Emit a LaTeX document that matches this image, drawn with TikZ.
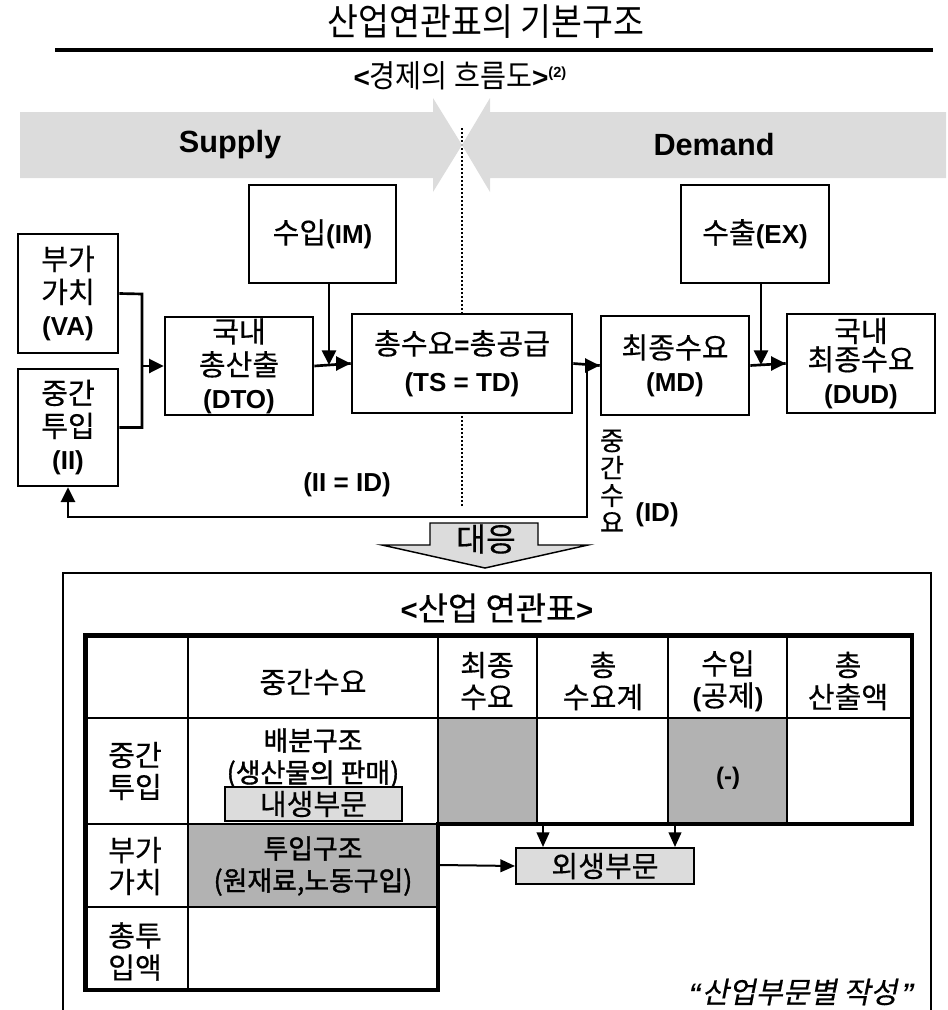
\documentclass[tikz,border=0pt]{standalone}
\usepackage{fontspec}
\setmainfont{Noto Sans CJK KR}[Scale=1.12, FakeBold=0.4]
\newfontfamily\ar{Liberation Sans}
\newfontfamily\krb{Noto Sans CJK KR}[Scale=1.12, FakeBold=1.4]
\newfontfamily\kri{Noto Sans CJK KR}[Scale=1.1, FakeSlant=0.2, FakeBold=0.4]
\newfontfamily\krn{Noto Sans CJK KR}[Scale=1.12, FakeStretch=0.9]
\newcommand\B[1]{{\ar\bfseries #1}}
\newcommand\fs[2]{\fontsize{#1}{#2}\selectfont}
\usetikzlibrary{arrows.meta}
\definecolor{band}{HTML}{DCDCDC}
\definecolor{cellgray}{HTML}{B2B2B2}
\definecolor{boxgray}{HTML}{DCDCDC}
\tikzset{
 flowbox/.style={draw, line width=2pt, fill=white, inner sep=0pt, align=center, font=\fs{19.5}{24.75}},
 flowline/.style={line width=2pt},
 flowarrow/.style={line width=2pt, -{Triangle[length=11pt,width=10.5pt]}},
 txt/.style={inner sep=0pt, align=center, font=\fs{19.5}{24}},
 boldtxt/.style={inner sep=0pt, align=center, font=\krb\fs{18}{24}},
 tabin/.style={line width=1.9pt},
 tabout/.style={line width=3.5pt, line join=miter},
 tabarrow/.style={line width=1.5pt, -{Triangle[length=11pt,width=9.5pt]}},
 secbox/.style={draw, line width=1.5pt, fill=boxgray, inner sep=0pt, font=\fs{19.5}{24}},
}
\begin{document}
\begin{tikzpicture}[x=0.75pt,y=-0.75pt]
\useasboundingbox (0,0) rectangle (948,1010);
% ---------- title ----------
\node[inner sep=0pt, font=\krn\fs{25}{30}] (title) at (486,22) {산업연관표의 기본구조};
\coordinate (rl) at (55,50); \coordinate (rr) at (933,50);
\draw[line width=3pt] (rl) -- (rr);
\node[inner sep=0pt, font=\krn\fs{21}{24}] (sub) at (460,76)
  {\B{<}경제의 흐름도\B{>}\raisebox{8pt}{\fs{11}{11}\B{(2)}}};
% ---------- dotted divider ----------
\coordinate (dtop) at (462,128); \coordinate (dbot) at (462,508);
\draw[line width=1.5pt, dash pattern=on 1.5pt off 1.5pt] (dtop) -- (dbot);
% ---------- bands ----------
\fill[band] (20,112) -- (433,112) -- (433,98) -- (462,145) -- (433,192) -- (433,178) -- (20,178) -- cycle;
\fill[band] (946,112) -- (490,112) -- (490,98) -- (462,145) -- (490,192) -- (490,178) -- (946,178) -- cycle;
\node[inner sep=0pt, font=\ar\bfseries\fs{23}{28}] (supply) at (230,145) {Supply};
\node[inner sep=0pt, font=\ar\bfseries\fs{23}{28}] (demand) at (714,145) {Demand};
% ---------- flow boxes ----------
\node[flowbox, minimum width=75pt, minimum height=89.25pt] (VA) at (68,293.5) {부가\\가치\\\B{(VA)}};
\node[flowbox, minimum width=75pt, minimum height=87.75pt] (II) at (68,427.5) {중간\\투입\\\B{(II)}};
\node[flowbox, minimum width=111pt, minimum height=73.5pt] (DTO) at (239,366) {국내\\총산출\\\B{(DTO)}};
\node[flowbox, minimum width=110.25pt, minimum height=73.5pt] (IM) at (322.5,234) {수입\B{(IM)}};
\node[flowbox, minimum width=165pt, minimum height=74.25pt] (TS) at (462,363.5) {총수요\B{=}총공급\\[3pt]\B{(TS = TD)}};
\node[flowbox, minimum width=111pt, minimum height=74.25pt] (MD) at (675,365.5) {최종수요\\\B{(MD)}};
\node[flowbox, minimum width=111pt, minimum height=73.5pt] (EX) at (755,234) {수출\B{(EX)}};
\node[flowbox, minimum width=111pt, minimum height=74.25pt] (DUD) at (861,363.5) {국내\\[-3.5pt]최종수요\\[0.5pt]\B{(DUD)}};
% ---------- connectors ----------
\coordinate (jv) at (142,294);
\coordinate (jm) at (142,366);
\draw[flowline] (VA.east) -- (jv) |- (II.east);
\draw[flowarrow] (jm) -- (DTO.west);
\draw[flowline] (DTO.east) -- (TS.west);
\coordinate (imin) at (329,365);
\draw[flowarrow] (imin |- IM.south) -- (imin);
\draw[flowline] (TS.east) -- (MD.west);
\coordinate (fbs) at (587,364.5);
\coordinate (fb1) at (587,517);
\draw[flowarrow] (fbs) -- (fb1) -| (II.south);
\coordinate (exin) at (761,365);
\draw[flowarrow] (exin |- EX.south) -- (exin);
\draw[flowline] (MD.east) -- (DUD.west);
% arrow heads on the joins
\draw[flowarrow] (TS.west) ++(-14,0) -- (TS.west);
\draw[flowarrow] (MD.west) ++(-14,0) -- (MD.west);
\draw[flowarrow] (DUD.west) ++(-14,0) -- (DUD.west);
% labels
\node[txt] (iiid) at (347,485) {\B{(II = ID)}};
\node[inner sep=0pt, align=center, font=\fs{17.5}{20.5}] (idv) at (612,481) {중\\간\\수\\요};
\node[txt] (idl) at (657,515) {\B{(ID)}};
% ---------- correspondence arrow ----------
\draw[line width=1.1pt, fill=boxgray, line join=miter] (430,523) -- (538,523) -- (538,545) -- (588,545) -- (485,568) -- (382,545) -- (430,545) -- cycle;
\node[inner sep=0pt, font=\fs{21.75}{26}] (corr) at (486,539) {대응};
% ---------- lower frame ----------
\coordinate (f1) at (63,1014); \coordinate (f2) at (63,573);
\coordinate (f3) at (931,573); \coordinate (f4) at (931,1014);
\draw[line width=1.5pt] (f1) -- (f2) -- (f3) -- (f4);
\node[inner sep=0pt, font=\fs{22}{26}] (ttitle) at (497,608) {\B{<}산업 연관표\B{>}};
% ---------- table ----------
\fill[cellgray] (438,718) rectangle (537,824);
\fill[cellgray] (668,718) rectangle (787,824);
\fill[cellgray] (188,824) rectangle (438,907);
\draw[tabin] (188,635.5) -- (188,990);
\draw[tabin] (438,635.5) -- (438,824);
\draw[tabin] (537,635.5) -- (537,824);
\draw[tabin] (668,635.5) -- (668,824);
\draw[tabin] (787,635.5) -- (787,824);
\draw[tabin] (85.5,718) -- (912,718);
\draw[tabin] (85.5,824) -- (438,824);
\draw[tabin] (85.5,907) -- (438,907);
\draw[tabout] (85.5,635.5) -- (912,635.5) -- (912,824) -- (438,824) -- (438,990) -- (85.5,990) -- cycle;
% header texts
\node[txt] (h1) at (313,682) {중간수요};
\node[txt] (h2) at (487,681) {최종\\수요};
\node[txt] (h3) at (603,681) {총\\수요계};
\node[txt] (h4) at (728,681) {수입\\\B{(}공제\B{)}};
\node[txt] (h5) at (848,681) {총\\산출액};
% row texts
\node[txt] (r1) at (135,771) {중간\\투입};
\node[txt] (r2) at (135,866) {부가\\가치};
\node[txt] (r3) at (135,951.5) {총투\\입액};
\node[boldtxt] (dist) at (313,758) {배분구조\\(생산물의 판매)};
\node[secbox, minimum width=132.75pt, minimum height=25.5pt] (endo) at (313.5,804) {내생부문};
\node[inner sep=0pt, font=\ar\bfseries\fs{18}{22}] (minus) at (728,778) {(-)};
\node[boldtxt] (inp) at (313,866) {투입구조\\(원재료,노동구입)};
\node[secbox, minimum width=133.5pt, minimum height=27pt] (exo) at (605,866) {외생부문};
\coordinate (a1) at (543,826);
\coordinate (a2) at (675,826);
\coordinate (a3) at (440,865);
\draw[tabarrow] (a1) -- (a1 |- exo.north);
\draw[tabarrow] (a2) -- (a2 |- exo.north);
\draw[tabarrow] (a3) -- (exo.west);
\node[inner sep=0pt, anchor=east, font=\kri\fs{20}{24}] (note) at (915,992) {{\ar\bfseries\itshape “}산업부문별 작성\hspace{3pt}{\ar\bfseries\itshape ”}};
\end{tikzpicture}
\end{document}
